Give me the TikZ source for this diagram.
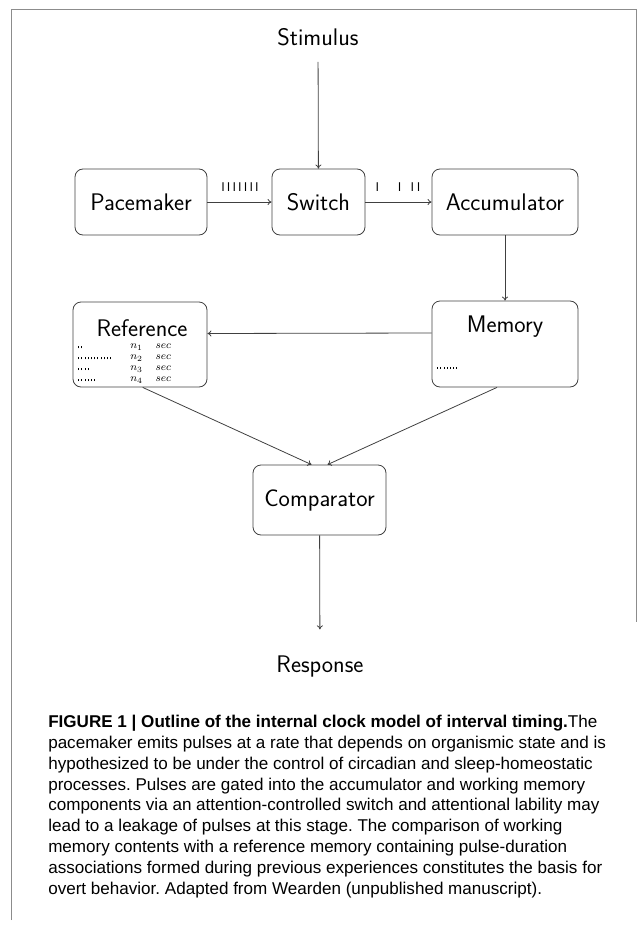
\documentclass[tikz,border=0pt]{standalone}
\usepackage{fontspec}
\newfontfamily\capfont{Liberation Sans}
\usepackage{tikz}
\usetikzlibrary{arrows.meta, positioning, calc}

% little pulse ticks for the stores
\newcommand{\pulses}[1]{\foreach \p in {1,...,#1}{\rule[0.4pt]{0.5pt}{1.8pt}\hspace{1.9pt}}}

\tikzset{
    block/.style={draw=black!75, line width=0.6pt, rounded corners=6pt, inner sep=0pt,
        minimum height=49.5pt, font=\sffamily\fontsize{18}{20}\selectfont},
    plain/.style={inner sep=4pt, font=\sffamily\fontsize{18}{20}\selectfont},
    flow/.style={draw=black!75, line width=0.6pt, -{To[length=3pt,width=4.5pt]}},
    ticks/.style={inner sep=0pt, font=\sffamily\fontsize{9.5}{10}\selectfont},
    frame/.style={draw=black!45, line width=0.6pt}
}

\begin{document}
\frenchspacing
\begin{tikzpicture}[x=0.75pt, y=-0.75pt]
    \useasboundingbox (0,0) rectangle (640,931);

    % page frame
    \draw[frame] (11,920) -- (11,9) -- (636,9) -- (636,622);

    % Clock stage
    \node[plain] (stimulus) at (318,37) {Stimulus};
    \node[block, minimum width=99pt] (pacemaker) at (141,202) {Pacemaker};
    \node[block, minimum width=69.75pt] (switch) at (318.5,202) {Switch};
    \node[block, minimum width=109.5pt] (accumulator) at (505,202) {Accumulator};

    % Memory stage
    \node[block, minimum width=109.5pt, minimum height=64.5pt] (memory) at (505,344) {};
    \node[plain] (memlabel) at (505,327) {Memory};
    \node[ticks, anchor=west] (memticks) at (437,368) {\pulses{7}};

    \node[block, minimum width=100.5pt, minimum height=63.75pt] (reference) at (140,344.5) {};
    \node[plain] (reflabel) at (142,328) {Reference};
    \node[inner sep=0pt, anchor=north west, align=left, font=\fontsize{8.5}{8.2}\selectfont] (reftable) at (78,344) {%
        \makebox[39pt][l]{\pulses{2}}\makebox[19pt][l]{$n_1$}$sec$\\
        \makebox[39pt][l]{\pulses{11}}\makebox[19pt][l]{$n_2$}$sec$\\
        \makebox[39pt][l]{\pulses{4}}\makebox[19pt][l]{$n_3$}$sec$\\
        \makebox[39pt][l]{\pulses{6}}\makebox[19pt][l]{$n_4$}$sec$};

    % Decision stage
    \node[block, minimum width=99.75pt, minimum height=52.5pt] (comparator) at (319.5,500) {Comparator};
    \node[plain] (response) at (320,667) {Response};

    % Connections
    \draw[flow, shorten <=8pt] (stimulus) -- (switch);
    \draw[flow] (pacemaker) -- (switch);
    \draw[flow] (switch) -- (accumulator);
    \draw[flow] (accumulator) -- (memory);
    \draw[flow] ([yshift=8.25pt]memory.west) -- ([yshift=8.25pt]reference.east);
    \draw[flow] ([xshift=2pt]reference.south) -- ([xshift=-6pt]comparator.north);
    \draw[flow] ([xshift=-6pt]memory.south) -- ([xshift=6pt]comparator.north);
    \draw[flow, shorten >=16pt] (comparator) -- (response);

    % pulse trains on the arrows
    \node[ticks] (pulsein) at (240,187) {I\,I\,I\,I\,I\,I\,I};
    \node[ticks] (pulseout) at (398,187) {I\hspace{14pt}I\hspace{7pt}I\hspace{2pt}I};

    % Caption
    \node[anchor=north west, inner sep=0pt, align=left,
          font=\capfont\fontsize{12.8}{15.6}\selectfont] (caption) at (48,715) {%
        \textbf{FIGURE 1 | Outline of the internal clock model of interval timing.}The\\
        pacemaker emits pulses at a rate that depends on organismic state and is\\
        hypothesized to be under the control of circadian and sleep-homeostatic\\
        processes. Pulses are gated into the accumulator and working memory\\
        components via an attention-controlled switch and attentional lability may\\
        lead to a leakage of pulses at this stage. The comparison of working\\
        memory contents with a reference memory containing pulse-duration\\
        associations formed during previous experiences constitutes the basis for\\
        overt behavior. Adapted from Wearden (unpublished manuscript).};

\end{tikzpicture}
\end{document}
